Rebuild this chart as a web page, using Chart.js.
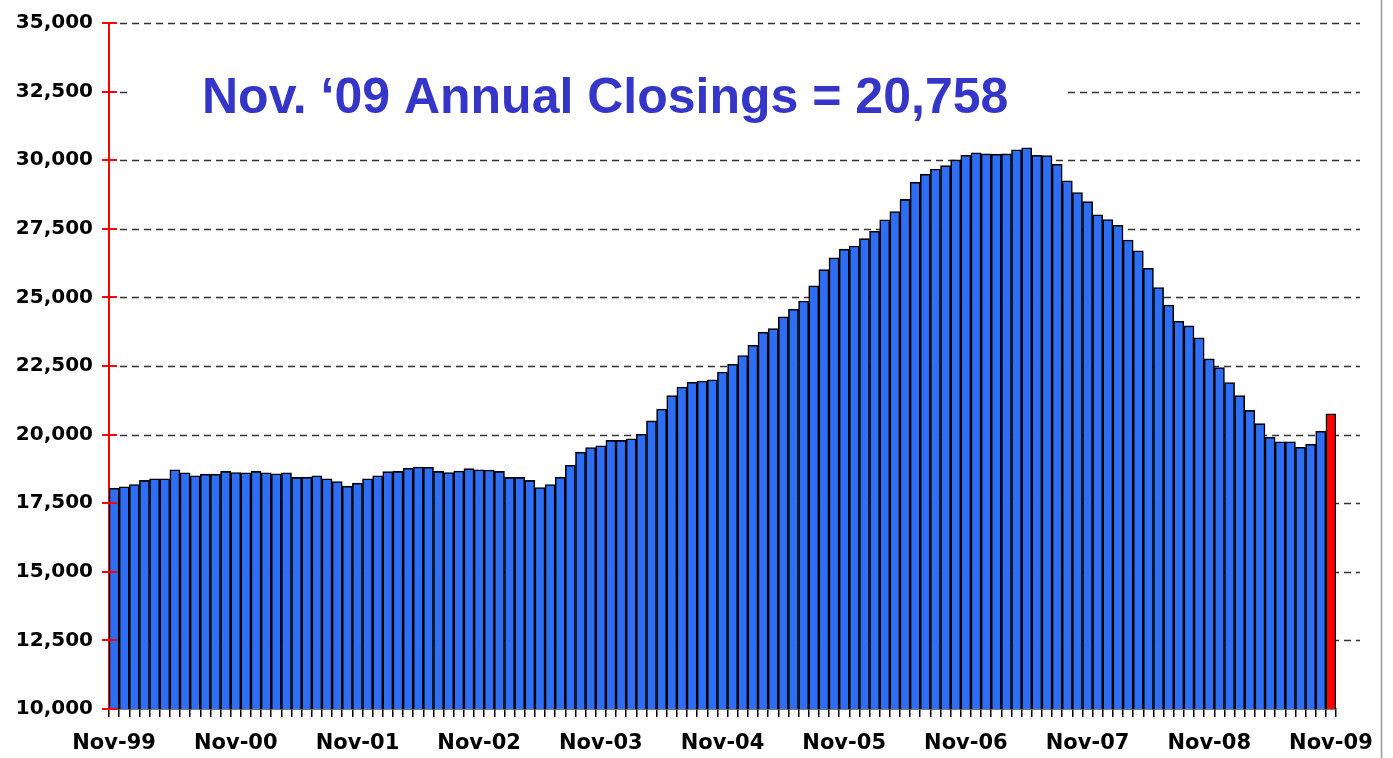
<!DOCTYPE html>
<html>
<head>
<meta charset="utf-8">
<script src="https://cdn.jsdelivr.net/npm/chart.js@4.4.1/dist/chart.umd.min.js"></script>
<style>
  html, body { margin: 0; padding: 0; background: #fff; }
</style>
</head>
<body>
<canvas id="chart" width="1393" height="758"></canvas>
<script>
// annual closings, rolling 12 months, Nov-99 .. Nov-09
const closings = [
  18050, 18100, 18180, 18330, 18390, 18390, 18720, 18610, 18500, 18560, 18560, 18660,
  18620, 18610, 18660, 18610, 18570, 18610, 18440, 18450, 18500, 18390, 18290, 18120,
  18230, 18390, 18500, 18650, 18660, 18770, 18820, 18810, 18660, 18620, 18670, 18760,
  18720, 18710, 18660, 18440, 18440, 18330, 18070, 18180, 18450, 18880, 19360, 19530,
  19590, 19790, 19790, 19850, 20010, 20500, 20930, 21420, 21735, 21905, 21950, 22000,
  22280, 22560, 22880, 23255, 23735, 23860, 24290, 24570, 24870, 25420, 26010, 26440,
  26760, 26870, 27140, 27410, 27830, 28130, 28570, 29200, 29490, 29680, 29800, 30010,
  30180, 30270, 30230, 30220, 30230, 30380, 30450, 30180, 30170, 29850, 29250, 28820,
  28490, 28010, 27840, 27630, 27090, 26700, 26060, 25360, 24720, 24130, 23960, 23530,
  22760, 22440, 21900, 21420, 20880, 20400, 19900, 19740, 19740, 19540, 19650, 20120,
  20758
];
const monthNames = ["Jan", "Feb", "Mar", "Apr", "May", "Jun", "Jul", "Aug", "Sep", "Oct", "Nov", "Dec"];
const tickLabels = ["Nov-99", "Nov-00", "Nov-01", "Nov-02", "Nov-03", "Nov-04", "Nov-05", "Nov-06", "Nov-07", "Nov-08", "Nov-09"];
const yTicks = [10000, 12500, 15000, 17500, 20000, 22500, 25000, 27500, 30000, 32500, 35000];
const titleText = "Nov. \u201809 Annual Closings = 20,758";

// month labels for every bar, starting Nov 1999
const months = [];
for (let i = 0; i < closings.length; i++) {
  const n = 10 + i;
  const yy = (99 + Math.floor(n / 12)) % 100;
  months.push(monthNames[n % 12] + "-" + String(yy).padStart(2, "0"));
}

const barColors = closings.map((v, i) => (i === closings.length - 1 ? "#ff0000" : "#2e6ef5"));

const decor = {
  id: "decor",
  beforeDatasetsDraw(chart) {
    const { ctx, chartArea, scales } = chart;
    ctx.save();
    ctx.strokeStyle = "#333333";
    ctx.lineWidth = 1.3;
    ctx.setLineDash([7, 5]);
    yTicks.forEach((v) => {
      if (v === yTicks[0]) return;
      const py = Math.round(scales.y.getPixelForValue(v)) + 0.5;
      ctx.beginPath();
      ctx.moveTo(chartArea.left + 11, py);
      ctx.lineTo(chartArea.right + 24, py);
      ctx.stroke();
    });
    ctx.restore();
  },
  afterDraw(chart) {
    const { ctx, chartArea, scales } = chart;
    ctx.save();
    // inner half of the y ticks
    ctx.strokeStyle = "#ff0000";
    ctx.lineWidth = 2;
    yTicks.forEach((v) => {
      const py = Math.round(scales.y.getPixelForValue(v));
      ctx.beginPath();
      ctx.moveTo(chartArea.left, py);
      ctx.lineTo(chartArea.left + 8, py);
      ctx.stroke();
    });
    // title box
    ctx.fillStyle = "#ffffff";
    ctx.fillRect(131, 55, 934, 75);
    ctx.fillStyle = "#3535c8";
    ctx.font = "bold 50px 'Liberation Sans', Arial, sans-serif";
    ctx.textBaseline = "alphabetic";
    ctx.textAlign = "left";
    ctx.fillText(titleText, 202, 113);
    // frame line on the right
    ctx.strokeStyle = "#9a9a9a";
    ctx.lineWidth = 1.5;
    ctx.beginPath();
    ctx.moveTo(1381.5, 0);
    ctx.lineTo(1381.5, chart.height);
    ctx.stroke();
    ctx.restore();
  }
};

new Chart(document.getElementById("chart"), {
  type: "bar",
  data: {
    labels: months,
    datasets: [{
      data: closings,
      backgroundColor: barColors,
      borderColor: "#000000",
      borderWidth: 1.6,
      barPercentage: 1,
      categoryPercentage: 1
    }]
  },
  options: {
    responsive: false,
    animation: false,
    layout: { padding: { top: 23, right: 57, bottom: 0, left: 0 } },
    plugins: {
      legend: { display: false },
      tooltip: { enabled: false }
    },
    scales: {
      x: {
        offset: true,
        afterFit: (scale) => { scale.height = 49; },
        grid: {
          offset: true,
          drawOnChartArea: false,
          color: "#000000",
          lineWidth: 1.5,
          tickLength: 8
        },
        border: { color: "#000000", width: 1.5 },
        ticks: {
          autoSkip: false,
          maxRotation: 0,
          minRotation: 0,
          padding: 14,
          color: "#000000",
          font: { family: "'DejaVu Sans'", weight: "bold", size: 21 },
          callback: function (value, index) {
            const lbl = this.getLabelForValue(value);
            return tickLabels.includes(lbl) ? lbl : "";
          }
        }
      },
      y: {
        min: yTicks[0],
        max: yTicks[yTicks.length - 1],
        afterFit: (scale) => { scale.width = 109; },
        grid: {
          drawOnChartArea: false,
          color: "#ff0000",
          lineWidth: 2,
          tickLength: 7
        },
        border: { color: "#ff0000", width: 2 },
        ticks: {
          stepSize: 2500,
          padding: 9,
          color: "#000000",
          font: { family: "'DejaVu Sans'", weight: "bold", size: 20 },
          callback: (v) => v.toLocaleString("en-US")
        }
      }
    }
  },
  plugins: [decor]
});
</script>
</body>
</html>
